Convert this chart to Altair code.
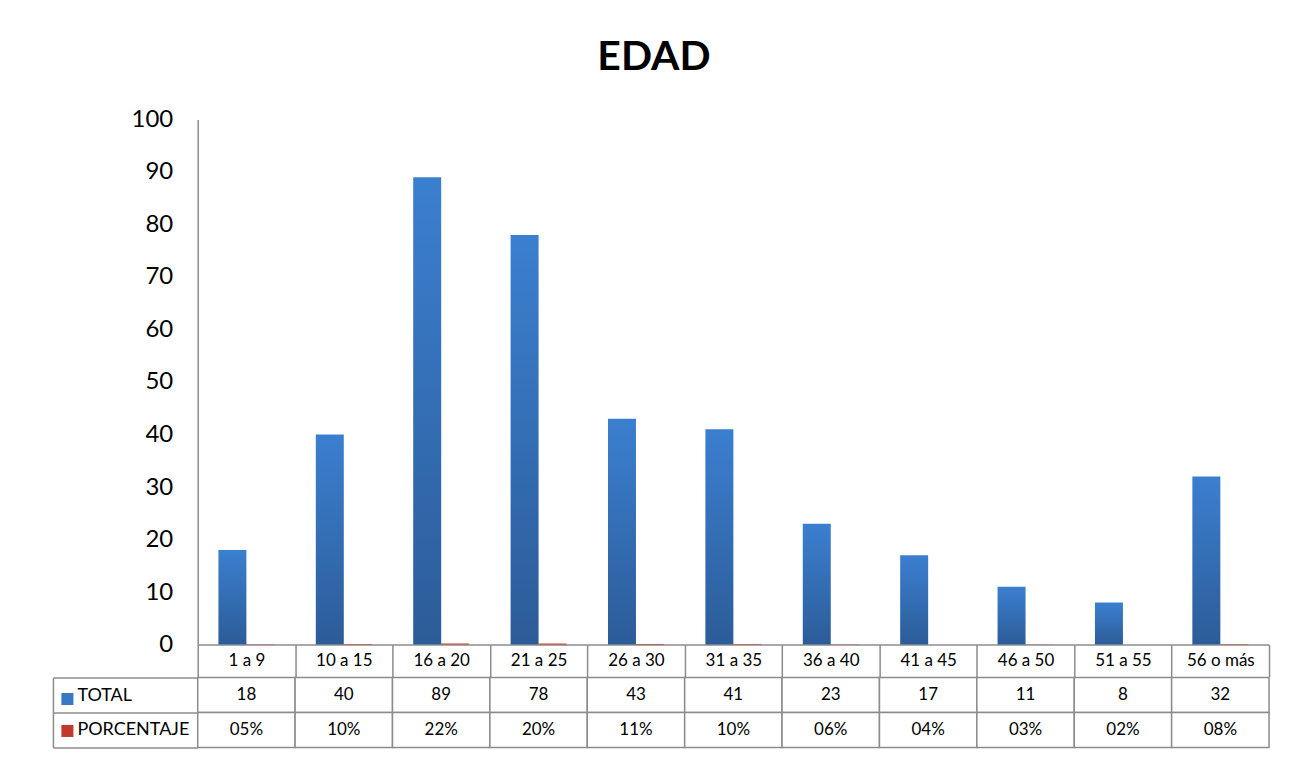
import altair as alt
import pandas as pd

categories = ["1 a 9", "10 a 15", "16 a 20", "21 a 25", "26 a 30", "31 a 35",
              "36 a 40", "41 a 45", "46 a 50", "51 a 55", "56 o más"]
total = [18, 40, 89, 78, 43, 41, 23, 17, 11, 8, 32]
porcentaje = [0.05, 0.10, 0.22, 0.20, 0.11, 0.10, 0.06, 0.04, 0.03, 0.02, 0.08]
series_names = ["TOTAL", "PORCENTAJE"]
y_ticks = list(range(0, 101, 10))

rows = []
for c, t, p in zip(categories, total, porcentaje):
    rows.append({"cat": c, "series": "TOTAL", "value": t, "label": str(t)})
    rows.append({"cat": c, "series": "PORCENTAJE", "value": p, "label": f"{p * 100:02.0f}%"})
df = pd.DataFrame(rows)

FONT = "Lato"
GRID = "#8c8c8c"
BLUE = "#3a78c6"
RED = "#c0392f"

blue_grad = alt.Gradient(
    gradient="linear", x1=0, x2=0, y1=0, y2=1,
    stops=[alt.GradientStop(color="#3b7fd0", offset=0),
           alt.GradientStop(color="#2c5c98", offset=1)],
)

x_enc = alt.X(
    "cat:N", sort=categories,
    scale=alt.Scale(paddingInner=0, paddingOuter=0),
    axis=alt.Axis(title=None, labelAngle=0, labelFont=FONT, labelFontSize=17,
                  labelColor="black", labelBaseline="middle", labelPadding=-16,
                  tickBand="extent", tickSize=32, tickColor=GRID, tickWidth=1.5,
                  domainColor=GRID, domainWidth=1.5),
)
xoff = alt.XOffset("series:N", sort=series_names,
                   scale=alt.Scale(domain=series_names, paddingInner=0, paddingOuter=0.74))
y_enc = alt.Y(
    "value:Q", scale=alt.Scale(domain=[0, 100]),
    axis=alt.Axis(values=y_ticks, title=None, grid=False, ticks=False,
                  labelFont=FONT, labelFontSize=24, labelColor="black",
                  labelPadding=25, domainColor=GRID, domainWidth=1.5),
)

bar_chart = alt.Chart(df).mark_bar().encode(
    x=x_enc, xOffset=xoff, y=y_enc,
    color=alt.condition(alt.datum.series == "TOTAL", alt.value(blue_grad), alt.value(RED)),
).properties(width=1073, height=526)

tx = alt.X("cat:N", sort=categories, scale=alt.Scale(paddingInner=0, paddingOuter=0), axis=None)
keys = alt.Chart(df).mark_square().encode(
    x=tx,
    color=alt.Color(
        "series:N", sort=series_names,
        scale=alt.Scale(domain=series_names, range=[BLUE, RED]),
        legend=alt.Legend(title=None, orient="none", legendX=-137, legendY=15,
                          symbolType="square", symbolSize=145, symbolStrokeWidth=0,
                          symbolOpacity=1, labelExpr="''", labelFontSize=1, rowPadding=19,
                          direction="vertical"),
    ),
)
rect = alt.Chart(df).mark_rect(fill="white", stroke=GRID, strokeWidth=1.5).encode(
    x=tx,
    y=alt.Y("series:N", sort=series_names,
            scale=alt.Scale(domain=series_names, paddingInner=0, paddingOuter=0),
            axis=alt.Axis(title=None, tickBand="extent", tickSize=145, tickColor=GRID,
                          tickWidth=1.5, domain=False, labelAlign="left", labelPadding=-24,
                          labelFont=FONT, labelFontSize=18, labelColor="black")),
)
text = alt.Chart(df).mark_text(font=FONT, fontSize=17, color="black").encode(
    x=tx,
    y=alt.Y("series:N", sort=series_names,
            scale=alt.Scale(domain=series_names, paddingInner=0, paddingOuter=0),
            axis=alt.Axis(orient="left", offset=145, domain=True, domainColor=GRID,
                          domainWidth=1.5, ticks=False, labels=False, title=None)),
    text="label:N",
)
table = alt.layer(keys, rect, text).resolve_scale(y="independent").resolve_axis(
    y="independent").properties(width=1073, height=70)

chart = alt.vconcat(bar_chart, table, spacing=-10).resolve_scale(
    color="independent").resolve_legend(color="independent").properties(
    title=alt.TitleParams("EDAD", font=FONT, fontSize=41, fontWeight="bold",
                          anchor="middle", baseline="alphabetic", offset=0, dx=-7, dy=4,
                          color="black"),
    padding={"left": 44, "top": 29, "right": 20, "bottom": 5},
).configure(font=FONT).configure_view(stroke=None)

chart.save("out.html", embed_options={"renderer": "svg", "actions": False})
